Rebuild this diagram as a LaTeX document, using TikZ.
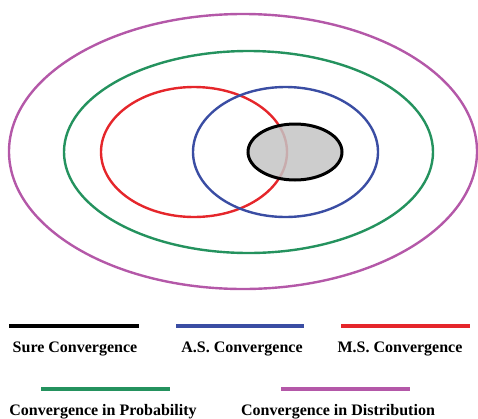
\documentclass[tikz,border=0pt]{standalone}
\definecolor{convSure}{HTML}{000000}
\definecolor{convAS}{HTML}{3A4DA3}
\definecolor{convMS}{HTML}{E5262B}
\definecolor{convProb}{HTML}{24925E}
\definecolor{convDist}{HTML}{B458A8}
\definecolor{sureFill}{HTML}{C4C4C4}
\usepackage{tikz}
\usepackage{fontspec}
\setmainfont{Liberation Serif}
\usetikzlibrary{positioning}

\begin{document}
\begin{tikzpicture}[x=1pt, y=-1pt,
    setline/.style={line width=2.4pt},
    keyline/.style={line width=4pt},
    keytext/.style={anchor=base, font=\fontsize{16}{18}\selectfont\bfseries, inner sep=0pt}]
  \useasboundingbox (0,0) rectangle (478,418);
  % nested sets
  \draw[setline, convDist] (243,151.5) ellipse (234 and 137.5);
  \draw[setline, convProb] (248.5,152) ellipse (184.5 and 101);
  \draw[setline, convMS] (194,152) ellipse (93 and 65);
  \draw[setline, convAS] (285.5,152) ellipse (92.5 and 65);
  \fill[sureFill, fill opacity=0.85] (295,152) ellipse (47 and 28);
  \draw[line width=3pt, convSure] (295,152) ellipse (47 and 28);
  % legend
  \coordinate (sureA) at (9,326);   \coordinate (sureB) at (139,326);
  \coordinate (asA) at (176,326);   \coordinate (asB) at (304,326);
  \coordinate (msA) at (341,326);   \coordinate (msB) at (470,326);
  \coordinate (probA) at (41,389);  \coordinate (probB) at (170,389);
  \coordinate (distA) at (281,389); \coordinate (distB) at (410,389);
  \draw[keyline, convSure] (sureA) -- (sureB);
  \draw[keyline, convAS] (asA) -- (asB);
  \draw[keyline, convMS] (msA) -- (msB);
  \draw[keyline, convProb] (probA) -- (probB);
  \draw[keyline, convDist] (distA) -- (distB);
  \node[keytext] (sure) at (75,352) {Sure Convergence};
  \node[keytext] (as) at (242,352) {A.S. Convergence};
  \node[keytext] (ms) at (400,352) {M.S. Convergence};
  \node[keytext] (prob) at (103,415) {Convergence in Probability};
  \node[keytext] (dist) at (338,415) {Convergence in Distribution};
\end{tikzpicture}
\end{document}
